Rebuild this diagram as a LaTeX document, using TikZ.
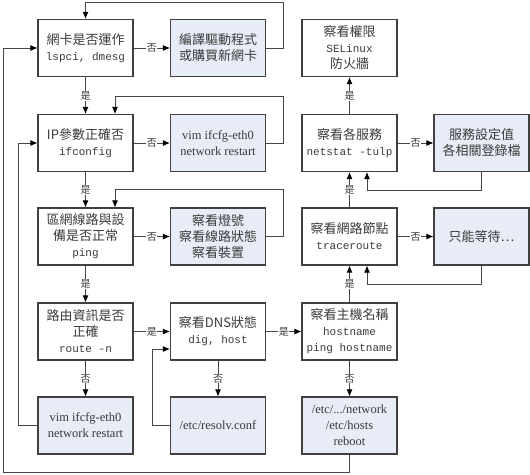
\documentclass[tikz,border=0pt]{standalone}
\usepackage{fontspec}
\setmainfont{Liberation Serif}
\setmonofont{Liberation Mono}
\newfontfamily\cjk{Noto Sans CJK TC}
\usetikzlibrary{arrows.meta,calc}
\definecolor{boxfill}{HTML}{E8ECF6}
\definecolor{boxline}{HTML}{404040}
\definecolor{conline}{HTML}{454545}
\definecolor{txtcol}{HTML}{3A3A3A}
\newcommand\monotxt{\ttfamily\fontsize{11}{16}\selectfont}
\newcommand\romtxt{\rmfamily\fontsize{12.5}{16}\selectfont}
\begin{document}
\begin{tikzpicture}[x=1pt,y=-1pt,
  nbox/.style={draw=boxline, line width=1.1pt, minimum width=95pt, minimum height=57pt,
    align=center, inner sep=1pt, text=txtcol, font=\cjk\fontsize{13}{16}\selectfont},
  fillbox/.style={nbox, fill=boxfill},
  conn/.style={draw=conline, line width=0.9pt, -{Latex[length=7pt,width=6pt,color=black]}},
  lab/.style={fill=white, inner sep=0.6pt, text=txtcol, font=\cjk\fontsize{10}{10}\selectfont}]
\useasboundingbox (0,0) rectangle (530,474);
% row 1
\node[nbox] (A) at (85.5,48) {網卡是否運作\\{\monotxt lspci, dmesg}};
\node[fillbox] (B) at (218,48) {編譯驅動程式\\或購買新網卡};
\node[nbox] (Q) at (349.5,48) {察看權限\\{\monotxt SELinux}\\防火牆};
% row 2
\node[nbox] (C) at (85.5,143) {IP參數正確否\\{\monotxt ifconfig}};
\node[fillbox] (D) at (218,143) {\romtxt vim ifcfg-eth0\\\romtxt network restart};
\node[nbox] (O) at (349.5,143) {察看各服務\\{\monotxt netstat -tulp}};
\node[fillbox] (P) at (481.5,143) {服務設定值\\各相關登錄檔};
% row 3
\node[nbox] (E) at (85.5,236.5) {區網線路與設\\備是否正常\\{\monotxt ping}};
\node[fillbox] (F) at (218,236.5) {察看燈號\\察看線路狀態\\察看裝置};
\node[nbox] (M) at (349.5,236.5) {察看網路節點\\{\monotxt traceroute}};
\node[fillbox] (N) at (481.5,236.5) {只能等待…};
% row 4
\node[nbox] (G) at (85.5,331.5) {路由資訊是否\\正確\\{\monotxt route -n}};
\node[nbox] (I) at (218,331.5) {察看DNS狀態\\{\monotxt dig, host}};
\node[nbox] (K) at (349.5,331.5) {察看主機名稱\\{\monotxt hostname}\\{\monotxt ping hostname}};
% row 5
\node[fillbox] (H) at (85.5,425.5) {\romtxt vim ifcfg-eth0\\\romtxt network restart};
\node[fillbox] (J) at (218,425.5) {\romtxt /etc/resolv.conf};
\node[fillbox] (L) at (349.5,425.5) {\romtxt /etc/.../network\\\romtxt /etc/hosts\\\romtxt reboot};
% main flow
\draw[conn] (A) -- node[lab]{否} (B);
\draw[conn] (A) -- node[lab]{是} (C);
\draw[conn] (C) -- node[lab]{否} (D);
\draw[conn] (C) -- node[lab]{是} (E);
\draw[conn] (E) -- node[lab]{否} (F);
\draw[conn] (E) -- node[lab]{是} (G);
\draw[conn] (G) -- node[lab]{否} (H);
\draw[conn] (G) -- node[lab]{是} (I);
\draw[conn] (I) -- node[lab]{否} (J);
\draw[conn] (I) -- node[lab]{是} (K);
\draw[conn] (K) -- node[lab]{否} (L);
\draw[conn] (K) -- node[lab]{是} (M);
\draw[conn] (M) -- node[lab]{否} (N);
\draw[conn] (M) -- node[lab]{是} (O);
\draw[conn] (O) -- node[lab]{否} (P);
\draw[conn] (O) -- node[lab]{是} (Q);
% loops back
\draw[conn] (B.east) -| (283,2) -| (A.north);
\draw[conn] (D.east) -| (283,96) -| ($(C.north)+(29.5,0)$);
\draw[conn] (F.east) -| (283,189) -| ($(E.north)+(29.5,0)$);
\draw[conn] (H.west) -- (18,425.5) |- (C.west);
\draw[conn] (J.west) -- (152,425.5) |- ($(I.west)+(0,17.5)$);
\draw[conn] (L.south) -- (349.5,472.5) -| (3,48) -- (A.west);
\draw[conn] (N.south) |- (367,284) -- ($(M.south)+(17.5,0)$);
\draw[conn] (P.south) |- (367,190) -- ($(O.south)+(17.5,0)$);
\end{tikzpicture}
\end{document}
